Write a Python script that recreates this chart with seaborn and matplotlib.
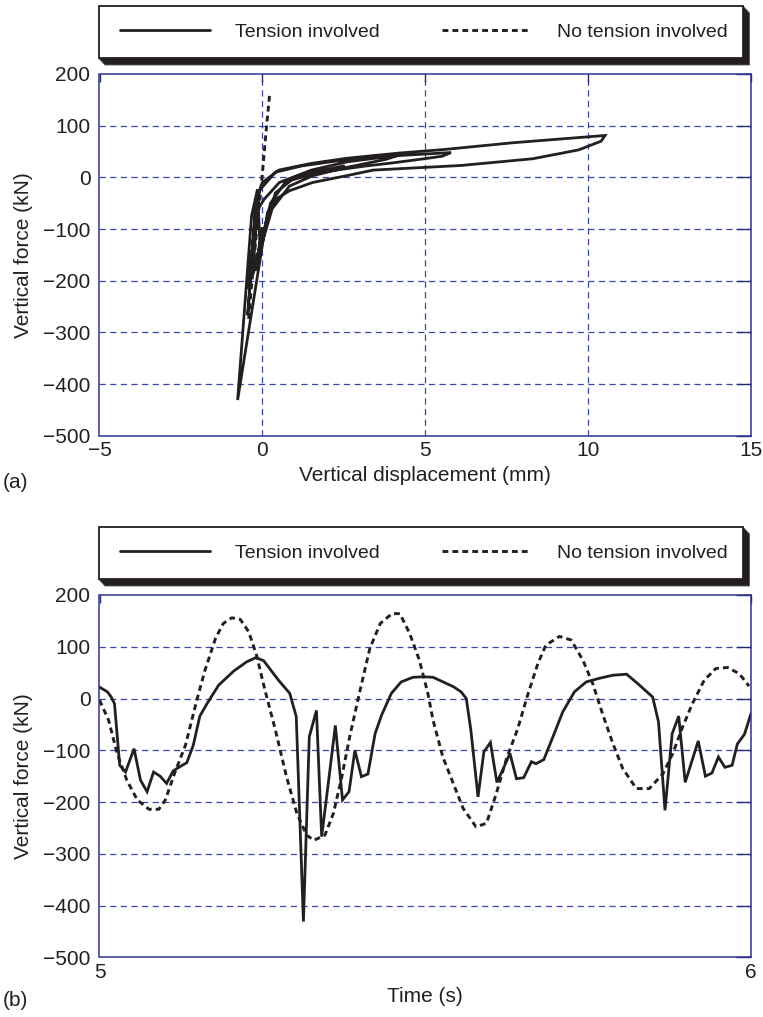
import matplotlib
matplotlib.use("Agg")
import matplotlib.pyplot as plt
import seaborn as sns
from matplotlib.patches import Rectangle, Polygon

# ---------------- data ----------------
series_labels = ["Tension involved", "No tension involved"]

# (a) force-displacement path, tension involved
disp_tension = [2.50, 1.40, 0.70, 0.25, -0.05, 0.00, -0.20, -0.12, -0.15, -0.08,
                -0.14, 0.00, 0.50, 1.50, 2.60, 4.20, 5.60, 7.70, 10.52, 10.40,
                9.70, 8.30, 6.10, 3.40, 2.57, 1.54, 0.83, 0.42, 0.16, -0.76,
                -0.33, -0.15, -0.45, -0.20, -0.38, -0.25, -0.32, -0.20, 0.06, 0.52,
                1.50, 2.60, 4.20, 3.80, 2.57, 1.54, 0.83, 0.30, -0.30, -0.18,
                -0.30, -0.22, -0.30, -0.24, -0.10, 0.40, 1.20, 2.20, 3.60, 5.79,
                5.53, 4.97, 4.00, 3.18, 1.80, 0.90, 0.40, -0.45, -0.12, -0.32,
                -0.22, -0.30, -0.25, -0.28, -0.18, -0.10]
force_tension_a = [22, 8, -10, -50, -129, -97, -180, -142, -164, -124,
                   -34, -10, 14, 27, 37, 47, 54, 67, 81, 70,
                   53, 36, 23, 14, 3, -10, -26, -42, -68, -431,
                   -74, -23, -267, -52, -196, -100, -151, -68, -42, -10,
                   14, 30, 43, 35, 19, 3, -17, -61, -190, -85,
                   -162, -106, -155, -118, -26, 10, 22, 31, 40, 48,
                   41, 36, 28, 22, 10, -5, -30, -216, -34, -162,
                   -82, -150, -113, -133, -69, -29]

# (a) force-displacement path, no tension involved
disp_no_tension = [-0.42, -0.32, -0.17, -0.01, 0.13, 0.23]
force_no_tension_a = [-274, -200, -100, 0, 100, 165]

# (b) force time history, tension involved
time_tension = [5.000, 5.012, 5.018, 5.023, 5.031, 5.040, 5.053, 5.063, 5.073, 5.083,
                5.093, 5.103, 5.113, 5.123, 5.134, 5.144, 5.154, 5.165, 5.183, 5.206,
                5.226, 5.240, 5.252, 5.275, 5.292, 5.302, 5.313, 5.322, 5.333, 5.341,
                5.353, 5.362, 5.373, 5.383, 5.392, 5.402, 5.412, 5.423, 5.433, 5.448,
                5.463, 5.481, 5.497, 5.512, 5.543, 5.555, 5.563, 5.570, 5.581, 5.590,
                5.600, 5.610, 5.620, 5.630, 5.640, 5.651, 5.663, 5.670, 5.682, 5.696,
                5.711, 5.729, 5.747, 5.767, 5.788, 5.809, 5.826, 5.849, 5.858, 5.868,
                5.879, 5.889, 5.899, 5.909, 5.919, 5.930, 5.940, 5.950, 5.960, 5.971,
                5.979, 5.990, 6.000]
force_tension_b = [22, 13, 3, -10, -129, -142, -97, -158, -180, -142,
                   -150, -164, -140, -132, -124, -90, -34, -10, 26, 53,
                   71, 79, 73, 35, 10, -35, -431, -74, -23, -267,
                   -145, -52, -196, -180, -100, -151, -146, -68, -32, 10,
                   32, 41, 42, 41, 23, 13, 0, -61, -190, -103,
                   -85, -162, -135, -106, -155, -153, -122, -126, -118, -74,
                   -26, 13, 32, 39, 45, 47, 29, 3, -45, -216,
                   -68, -34, -162, -122, -82, -150, -144, -113, -133, -129,
                   -88, -69, -29]

# (b) force time history, no tension involved
time_no_tension = [5.000, 5.014, 5.027, 5.042, 5.058, 5.076, 5.091, 5.101, 5.116, 5.132,
                   5.150, 5.162, 5.178, 5.190, 5.203, 5.216, 5.229, 5.241, 5.254, 5.270,
                   5.287, 5.303, 5.318, 5.329, 5.346, 5.359, 5.372, 5.384, 5.400, 5.415,
                   5.431, 5.449, 5.461, 5.476, 5.491, 5.504, 5.512, 5.527, 5.543, 5.558,
                   5.578, 5.594, 5.609, 5.624, 5.642, 5.657, 5.673, 5.685, 5.706, 5.724,
                   5.742, 5.757, 5.772, 5.788, 5.803, 5.824, 5.844, 5.865, 5.880, 5.895,
                   5.910, 5.928, 5.946, 5.964, 5.982, 5.997]
force_no_tension_b = [-3, -42, -106, -158, -196, -214, -214, -196, -142, -90,
                      0, 55, 116, 145, 156, 153, 129, 84, 16, -61,
                      -151, -222, -264, -274, -264, -222, -151, -74, 16, 97,
                      145, 164, 164, 126, 74, 10, -42, -113, -164, -212,
                      -248, -241, -184, -119, -58, 6, 68, 103, 120, 113,
                      74, 29, -29, -87, -135, -174, -174, -145, -106, -55,
                      -10, 35, 58, 60, 48, 24]

disp_ticks = [-5, 0, 5, 10, 15]
time_ticks = [5, 6]
force_ticks = [-500, -400, -300, -200, -100, 0, 100, 200]

# ---------------- style ----------------
sns.set_theme(style="white")
plt.rcParams["font.family"] = ["Liberation Sans", "DejaVu Sans"]

INK = "#231f20"
FRAME = "#2e3192"
GRID = "#3a46aa"
TICK = "#262a6e"
FS = 15

W, H = 763, 1017
fig = plt.figure(figsize=(W / 100, H / 100), dpi=100)
fig.patch.set_facecolor("white")

ax_a = fig.add_axes([99.5 / W, 1 - 435.7 / H, 651.5 / W, 361.7 / H])
ax_b = fig.add_axes([99.5 / W, 1 - 957.3 / H, 651.5 / W, 362.3 / H])

solid_kw = dict(color=INK, linewidth=2.0, solid_joinstyle="miter")
dash_kw = dict(color=INK, linewidth=2.1, dashes=(2.0, 1.4))

# (a) hysteresis curves
sns.lineplot(x=disp_tension, y=force_tension_a, sort=False, estimator=None,
             ax=ax_a, **solid_kw)
sns.lineplot(x=disp_no_tension, y=force_no_tension_a, sort=False, estimator=None,
             ax=ax_a, **dash_kw)

# (b) time histories
sns.lineplot(x=time_tension, y=force_tension_b, sort=False, estimator=None,
             ax=ax_b, **solid_kw)
sns.lineplot(x=time_no_tension, y=force_no_tension_b, sort=False, estimator=None,
             ax=ax_b, **dash_kw)


def hide_edge_gridlines(axis, locs, lim):
    # grid lines lying on the frame are covered by the solid box instead
    for tick, loc in zip(axis.get_major_ticks(), locs):
        if loc <= min(lim) or loc >= max(lim):
            tick.gridline.set_visible(False)


def style_axes(ax, xticks, xlim, xlabel, vgrid):
    ax.set_xlim(*xlim)
    ax.set_ylim(-500, 200)
    ax.set_xticks(xticks)
    ax.set_yticks(force_ticks)
    for s in ax.spines.values():
        s.set_visible(True)
        s.set_color(FRAME)
        s.set_linewidth(1.1)
    ax.grid(False)
    grid_style = dict(color=GRID, linestyle=(0, (5, 3.5)), linewidth=0.9)
    ax.yaxis.grid(True, **grid_style)
    if vgrid:
        ax.xaxis.grid(True, **grid_style)
    ax.set_axisbelow(True)
    ax.tick_params(axis="both", direction="in", top=True, right=True,
                   labelsize=FS, labelcolor=INK, color=TICK, width=1.0)
    ax.tick_params(axis="y", length=11, pad=6.5)
    ax.tick_params(axis="x", length=6, pad=4)
    hide_edge_gridlines(ax.yaxis, force_ticks, (-500, 200))
    if vgrid:
        hide_edge_gridlines(ax.xaxis, xticks, xlim)
    ax.set_xlabel(xlabel, fontsize=FS, color=INK, labelpad=4)
    ax.set_ylabel("Vertical force (kN)", fontsize=FS, color=INK, labelpad=7)
    leg = ax.get_legend()
    if leg is not None:
        leg.remove()


style_axes(ax_a, disp_ticks, (-5, 15), "Vertical displacement (mm)", True)
style_axes(ax_b, time_ticks, (5, 6), "Time (s)", False)


def legend_panel(ax):
    # framed key above the axes with an extruded dark shadow
    pos = ax.get_position()
    left = pos.x0 * W - 1
    right = pos.x1 * W - 8
    top_px = (1 - pos.y1) * H
    yt = H - (top_px - 68)
    yb = H - (top_px - 16)
    dx, dy = 6.5, -7
    shadow = Polygon([(left / W, yb / H), ((left + dx) / W, (yb + dy) / H),
                      ((right + dx) / W, (yb + dy) / H), ((right + dx) / W, (yt + dy) / H),
                      (right / W, yt / H), (right / W, yb / H)],
                     closed=True, transform=fig.transFigure,
                     facecolor=INK, edgecolor="#555555", linewidth=0.6)
    box = Rectangle((left / W, yb / H), (right - left) / W, (yt - yb) / H,
                    transform=fig.transFigure, facecolor="white",
                    edgecolor=INK, linewidth=1.3)
    fig.add_artist(shadow)
    fig.add_artist(box)
    handles = [ax.lines[0], ax.lines[1]]
    fig.legend(handles, series_labels, loc="center",
               bbox_to_anchor=((left + right) / 2 / W + 3 / W, (yt + yb) / 2 / H),
               ncol=2, frameon=False, fontsize=14, handlelength=4.6,
               handletextpad=1.3, columnspacing=3.2, labelcolor=INK)


legend_panel(ax_a)
legend_panel(ax_b)

fig.text(3 / W, 1 - 483 / H, "(a)", fontsize=FS, color=INK, va="center", ha="left")
fig.text(3 / W, 1 - 1000 / H, "(b)", fontsize=FS, color=INK, va="center", ha="left")

fig.savefig("out.png", dpi=100, facecolor="white")
